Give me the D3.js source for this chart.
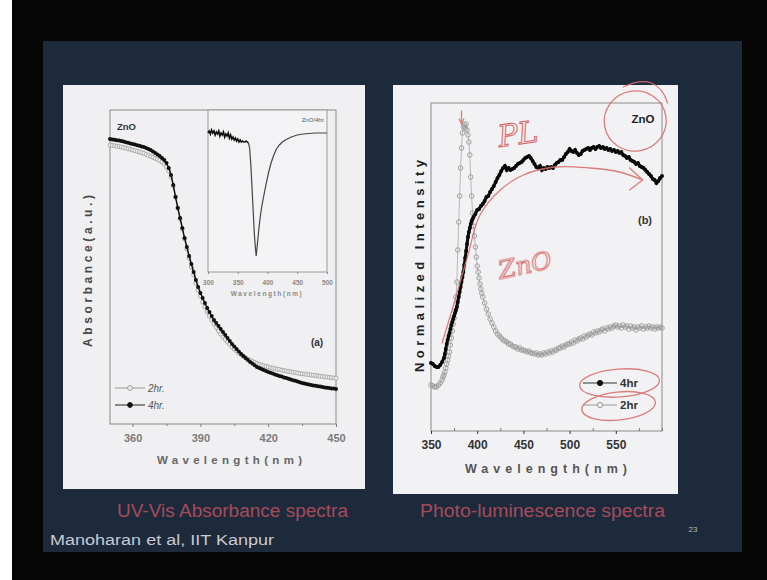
<!DOCTYPE html>
<html><head><meta charset="utf-8">
<script src="https://cdn.jsdelivr.net/npm/d3@7"></script>
<style>body{margin:0;background:#050505}svg{display:block}</style>
</head><body>
<svg id="c" width="767" height="580"></svg>
<script>
// ---------- DATA ----------
const uvWavelength = [350,351,352,353,354,355,356,357,358,359,360,361,362,363,364,365,366,367,368,369,
370,371,372,373,374,375,376,377,378,379,380,381,382,383,384,385,386,387,388,389,
390,391,392,393,394,395,396,397,398,399,400,401,402,403,404,405,406,407,408,409,
410,411,412,413,414,415,416,417,418,419,420,421,422,423,424,425,426,427,428,429,
430,431,432,433,434,435,436,437,438,439,440,441,442,443,444,445,446,447,448,449,450];
const uv4hr = [1.425,1.423,1.421,1.419,1.417,1.415,1.412,1.409,1.406,1.403,
1.400,1.397,1.394,1.391,1.388,1.385,1.380,1.375,1.370,1.363,
1.355,1.348,1.340,1.330,1.320,1.305,1.280,1.245,1.195,1.135,
1.080,1.030,0.980,0.930,0.885,0.840,0.800,0.760,0.720,0.685,
0.655,0.630,0.605,0.580,0.560,0.540,0.520,0.505,0.490,0.475,
0.460,0.445,0.430,0.415,0.400,0.388,0.375,0.363,0.350,0.340,
0.330,0.320,0.310,0.302,0.294,0.285,0.280,0.275,0.270,0.265,
0.260,0.256,0.252,0.248,0.244,0.240,0.237,0.233,0.230,0.226,
0.223,0.219,0.216,0.212,0.209,0.205,0.203,0.200,0.198,0.195,
0.193,0.191,0.189,0.187,0.185,0.183,0.181,0.180,0.178,0.177,0.175];
const uv2hr = [1.395,1.393,1.391,1.389,1.387,1.385,1.382,1.379,1.376,1.373,
1.370,1.367,1.363,1.360,1.356,1.353,1.348,1.343,1.338,1.333,
1.328,1.323,1.318,1.310,1.300,1.285,1.265,1.235,1.190,1.135,
1.080,1.025,0.975,0.925,0.875,0.830,0.785,0.745,0.705,0.670,
0.640,0.610,0.585,0.560,0.540,0.520,0.500,0.483,0.465,0.450,
0.435,0.423,0.410,0.398,0.385,0.375,0.365,0.355,0.347,0.339,
0.330,0.324,0.318,0.313,0.308,0.303,0.299,0.295,0.291,0.288,
0.285,0.282,0.279,0.277,0.274,0.272,0.269,0.267,0.265,0.263,
0.261,0.259,0.257,0.255,0.253,0.251,0.250,0.248,0.247,0.245,
0.244,0.242,0.241,0.239,0.238,0.236,0.235,0.233,0.232,0.230,0.229];
const uvTicks = [360,390,420,450];
const uvMinorTicks = [375,405,435];

const insetDeriv = [[300,1.40],[302,1.42],[304,1.39],[306,1.43],[308,1.40],[310,1.42],[312,1.38],[314,1.41],
[316,1.39],[318,1.42],[320,1.37],[322,1.40],[324,1.38],[326,1.41],[328,1.36],[330,1.39],[332,1.37],[334,1.40],
[336,1.35],[338,1.38],[340,1.34],[342,1.36],[344,1.33],[346,1.35],[348,1.32],[350,1.34],[352,1.31],[354,1.33],
[356,1.31],[358,1.32],[360,1.31],[362,1.31],[364,1.32],[366,1.31],[368,1.30],[370,1.25],[372,1.08],[374,0.85],
[376,0.61],[378,0.38],[380,0.23],[381,0.17],[382,0.23],[384,0.35],[386,0.47],[388,0.57],[390,0.65],[392,0.72],
[395,0.81],[398,0.90],[402,1.01],[406,1.10],[410,1.17],[415,1.24],[420,1.28],[425,1.31],[430,1.33],[440,1.36],
[450,1.38],[460,1.39],[470,1.395],[480,1.40],[490,1.40],[500,1.40]];
const insetTicks = [300,350,400,450,500];

const pl4hr = [[350,0.34],[352,0.335],[354,0.325],[356,0.32],[358,0.32],[360,0.33],[362,0.345],
[364,0.365],[365,0.385],[366,0.41],[367,0.435],[368,0.455],[369,0.475],[370,0.49],[371,0.51],[372,0.53],
[373,0.545],[374,0.56],[375,0.575],[376,0.59],[377,0.605],[378,0.62],[379,0.645],[380,0.67],[381,0.695],
[382,0.72],[383,0.745],[384,0.77],[385,0.795],[386,0.83],[387,0.865],[388,0.90],[389,0.935],[390,0.97],
[391,0.995],[392,1.015],[393,1.035],[394,1.05],[395,1.06],[396,1.07],[398,1.085],[400,1.105],[402,1.11],
[404,1.125],[406,1.135],[408,1.15],[410,1.17],[412,1.175],[414,1.195],[416,1.21],[418,1.225],[420,1.245],
[422,1.265],[424,1.28],[426,1.30],[428,1.315],[430,1.325],[432,1.305],[434,1.315],[436,1.305],[438,1.31],
[440,1.315],[442,1.325],[444,1.335],[446,1.34],[448,1.345],[450,1.355],[452,1.365],[454,1.37],[456,1.375],
[458,1.365],[460,1.35],[462,1.335],[464,1.32],[466,1.315],[468,1.325],[470,1.305],[472,1.315],[474,1.31],
[476,1.32],[478,1.315],[480,1.32],[482,1.315],[484,1.33],[486,1.34],[488,1.345],[490,1.355],[492,1.355],
[494,1.37],[496,1.385],[498,1.395],[500,1.41],[502,1.40],[504,1.395],[506,1.405],[508,1.39],[510,1.38],
[512,1.385],[514,1.40],[516,1.405],[518,1.41],[520,1.415],[522,1.405],[524,1.415],[526,1.42],[528,1.41],
[530,1.42],[532,1.425],[534,1.415],[536,1.42],[538,1.41],[540,1.415],[542,1.405],[544,1.41],[546,1.40],
[548,1.405],[550,1.395],[552,1.40],[554,1.39],[556,1.395],[558,1.38],[560,1.375],[562,1.365],[564,1.37],
[566,1.355],[568,1.35],[570,1.345],[572,1.335],[574,1.34],[576,1.325],[578,1.32],[580,1.315],[582,1.305],
[584,1.295],[586,1.285],[588,1.275],[590,1.26],[592,1.255],[594,1.24],[596,1.25],[598,1.265],[600,1.275]];
const pl2hr = [[350,0.23],[352,0.225],[354,0.22],[356,0.22],[358,0.23],[360,0.24],[362,0.255],[363,0.27],
[364,0.28],[365,0.295],[366,0.315],[367,0.335],[368,0.355],[369,0.375],[370,0.395],[371,0.43],[372,0.465],
[373,0.50],[374,0.535],[375,0.565],[376,0.60],[377,0.67],[378,0.745],[379,0.905],[380,1.045],[381,1.175],
[382,1.315],[383,1.415],[384,1.49],[385,1.52],[386,1.53],[387,1.515],[388,1.535],[389,1.505],[390,1.48],
[391,1.445],[392,1.38],[393,1.27],[394,1.175],[395,1.09],[396,1.025],[397,0.975],[398,0.92],[399,0.87],
[400,0.825],[401,0.795],[402,0.765],[403,0.735],[404,0.71],[405,0.69],[406,0.67],[408,0.64],[410,0.61],
[412,0.585],[414,0.56],[416,0.54],[418,0.52],[420,0.50],[422,0.485],[424,0.475],[426,0.465],[428,0.455],
[430,0.45],[432,0.445],[434,0.435],[436,0.435],[438,0.425],[440,0.42],[442,0.42],[444,0.41],[446,0.415],
[448,0.405],[450,0.405],[452,0.40],[454,0.395],[456,0.40],[458,0.39],[460,0.39],[462,0.385],[464,0.39],
[466,0.38],[468,0.385],[470,0.38],[472,0.39],[474,0.385],[476,0.395],[478,0.39],[480,0.40],[482,0.395],
[484,0.405],[486,0.405],[488,0.415],[490,0.415],[492,0.425],[494,0.42],[496,0.43],[498,0.435],[500,0.435],
[502,0.445],[504,0.44],[506,0.455],[508,0.45],[510,0.46],[512,0.465],[514,0.46],[516,0.475],[518,0.47],
[520,0.48],[522,0.485],[524,0.48],[526,0.495],[528,0.49],[530,0.50],[532,0.495],[534,0.505],[536,0.51],
[538,0.50],[540,0.515],[542,0.51],[544,0.52],[546,0.515],[548,0.525],[550,0.53],[552,0.52],[554,0.525],
[556,0.515],[558,0.53],[560,0.52],[562,0.525],[564,0.51],[566,0.525],[568,0.515],[570,0.52],[572,0.505],
[574,0.52],[576,0.515],[578,0.525],[580,0.51],[582,0.52],[584,0.515],[586,0.525],[588,0.515],[590,0.52],
[592,0.51],[594,0.52],[596,0.515],[598,0.52],[600,0.515]];
const plTicks = [350,400,450,500,550];
const plMinorTicks = [375,425,475,525,575,600];

// annotation strokes (in PL data coordinates)
const plArrowPath = [[362,0.44],[376,0.655],[390,0.88],[403,1.08],[425,1.205],[450,1.28],[484,1.32],[522,1.315],[554,1.295],[579,1.255]];

// ---------- DRAW ----------
const svg = d3.select('#c');
const FONT = 'Liberation Sans, Arial, sans-serif';
const RED = '#d8706e';

svg.append('rect').attr('width',767).attr('height',580).attr('fill','#050505');
svg.append('rect').attr('x',0).attr('y',0).attr('width',12).attr('height',580).attr('fill','#ffffff');
svg.append('rect').attr('x',43).attr('y',41).attr('width',699).attr('height',511).attr('fill','#1c2a3b');
svg.append('rect').attr('x',63).attr('y',85).attr('width',302).attr('height',404).attr('fill','#f0f0f2');
svg.append('rect').attr('x',393).attr('y',85).attr('width',285).attr('height',409).attr('fill','#f2f2f4');

function styleAxis(s, fs, color){
  s.select('.domain').remove();
  s.selectAll('line').attr('stroke',color);
  s.selectAll('text').attr('font-size',fs).attr('font-weight','bold').attr('fill',color).attr('font-family',FONT);
}

// ===== LEFT: UV-Vis =====
const xL = d3.scaleLinear([350,450],[110,336]);
const yL = d3.scaleLinear([0,1.57],[424,110]);
const gL = svg.append('g');
gL.append('rect').attr('x',110).attr('y',110).attr('width',226).attr('height',314).attr('fill','none').attr('stroke','#8a8a8a');
gL.append('g').attr('transform','translate(0,424)')
  .call(d3.axisBottom(xL).tickValues(uvTicks).tickSize(3).tickPadding(7))
  .call(s=>styleAxis(s,11,'#7a7a7a'));
gL.append('g').attr('transform','translate(0,424)')
  .call(d3.axisBottom(xL).tickValues(uvMinorTicks).tickSize(2).tickFormat(''))
  .call(s=>styleAxis(s,11,'#7a7a7a'));
gL.append('text').attr('x',157).attr('y',464).attr('font-family',FONT)
  .attr('font-weight','bold').attr('font-size',11.5).attr('textLength',145).attr('lengthAdjust','spacing').attr('fill','#666').text('Wavelength(nm)');
gL.append('text').attr('transform','translate(92,347) rotate(-90)').attr('font-family',FONT)
  .attr('font-weight','bold').attr('font-size',12).attr('textLength',152).attr('lengthAdjust','spacing').attr('fill','#4a4a4a').text('Absorbance(a.u.)');
gL.append('text').attr('x',117).attr('y',130).attr('font-family',FONT).attr('font-weight','bold').attr('font-size',9.5).attr('fill','#333').text('ZnO');
gL.append('text').attr('x',317).attr('y',346).attr('text-anchor','middle').attr('font-family',FONT).attr('font-weight','bold').attr('font-size',10).attr('fill','#333').text('(a)');

const uvLine = d3.line().x(d=>xL(d[0])).y(d=>yL(d[1]));
const uvData2 = uvWavelength.map((w,i)=>[w,uv2hr[i]]);
const uvData4 = uvWavelength.map((w,i)=>[w,uv4hr[i]]);
gL.append('path').datum(uvData2).attr('d',uvLine).attr('fill','none').attr('stroke','#9a9a9a').attr('stroke-width',1);
gL.selectAll('.c2').data(uvData2).join('circle').attr('cx',d=>xL(d[0])).attr('cy',d=>yL(d[1])).attr('r',2)
  .attr('fill','#f2f2f2').attr('stroke','#9a9a9a').attr('stroke-width',0.8);
gL.append('path').datum(uvData4).attr('d',uvLine).attr('fill','none').attr('stroke','#111').attr('stroke-width',1.4);
gL.selectAll('.c4').data(uvData4).join('circle').attr('cx',d=>xL(d[0])).attr('cy',d=>yL(d[1])).attr('r',2).attr('fill','#111');

// legend left
[[388,'2hr.',false],[405,'4hr.',true]].forEach(([yy,lab,filled])=>{
  gL.append('line').attr('x1',115).attr('x2',145).attr('y1',yy).attr('y2',yy).attr('stroke',filled?'#222':'#999');
  gL.append('circle').attr('cx',130).attr('cy',yy).attr('r',2.4).attr('fill',filled?'#111':'#f2f2f2').attr('stroke',filled?'#111':'#999');
  gL.append('text').attr('x',148).attr('y',yy+3.5).attr('font-family',FONT).attr('font-size',10).attr('font-style','italic').attr('fill','#555').text(lab);
});

// inset
const xI = d3.scaleLinear([300,500],[208,327]);
const yI = d3.scaleLinear([0,1.63],[273,110]);
const gI = svg.append('g');
gI.append('rect').attr('x',208).attr('y',110).attr('width',119).attr('height',162).attr('fill','#f3f3f5').attr('stroke','#999');
gI.append('g').attr('transform','translate(0,272)')
  .call(d3.axisBottom(xI).tickValues(insetTicks).tickSize(2).tickPadding(6))
  .call(s=>styleAxis(s,6.5,'#8a8a8a'));
gI.append('text').attr('x',267).attr('y',296).attr('text-anchor','middle').attr('font-family',FONT).attr('font-weight','bold')
  .attr('font-size',6.5).attr('letter-spacing',1.6).attr('fill','#8a8a8a').text('Wavelength(nm)');
gI.append('text').attr('x',325).attr('y',122).attr('text-anchor','end').attr('font-family',FONT).attr('font-size',6).attr('fill','#555').text('ZnO/4hr.');
const inLine = d3.line().x(d=>xI(d[0])).y(d=>yI(d[1]));
gI.append('path').datum(insetDeriv.filter(d=>d[0]<=368)).attr('d',inLine).attr('fill','none').attr('stroke','#111').attr('stroke-width',1.6);
gI.append('path').datum(insetDeriv.filter(d=>d[0]>=368)).attr('d',inLine).attr('fill','none').attr('stroke','#444').attr('stroke-width',1.2);

// ===== RIGHT: PL =====
const xR = d3.scaleLinear([350,600],[431,662]);
const yR = d3.scaleLinear([0,1.64],[431,103]);
const gR = svg.append('g');
gR.append('rect').attr('x',431).attr('y',103).attr('width',231).attr('height',328).attr('fill','none').attr('stroke','#8a8a8a');
gR.append('g').attr('transform','translate(0,431)')
  .call(d3.axisBottom(xR).tickValues(plTicks).tickSize(3).tickPadding(6))
  .call(s=>styleAxis(s,12,'#333'));
gR.append('g').attr('transform','translate(0,431)')
  .call(d3.axisBottom(xR).tickValues(plMinorTicks).tickSize(-3).tickFormat(''))
  .call(s=>styleAxis(s,12,'#777'));
gR.append('text').attr('x',465).attr('y',473).attr('font-family',FONT)
  .attr('font-weight','bold').attr('font-size',12.5).attr('textLength',162).attr('lengthAdjust','spacing').attr('fill','#555').text('Wavelength(nm)');
gR.append('text').attr('transform','translate(424,372) rotate(-90)').attr('font-family',FONT)
  .attr('font-weight','bold').attr('font-size',13).attr('textLength',212).attr('lengthAdjust','spacing').attr('fill','#222').text('Normalized Intensity');
gR.append('text').attr('x',643).attr('y',123).attr('text-anchor','middle').attr('font-family',FONT).attr('font-weight','bold').attr('font-size',11.5).attr('fill','#222').text('ZnO');
gR.append('text').attr('x',645).attr('y',224).attr('text-anchor','middle').attr('font-family',FONT).attr('font-weight','bold').attr('font-size',11).attr('fill','#333').text('(b)');

const plLine = d3.line().x(d=>xR(d[0])).y(d=>yR(d[1]));
gR.append('path').datum(pl2hr).attr('d',plLine).attr('fill','none').attr('stroke','#aaa').attr('stroke-width',0.8);
gR.selectAll('.p2').data(pl2hr).join('circle').attr('cx',d=>xR(d[0])).attr('cy',d=>yR(d[1])).attr('r',2.3)
  .attr('fill','none').attr('stroke','#999').attr('stroke-width',0.9);
gR.append('path').datum(pl4hr).attr('d',plLine).attr('fill','none').attr('stroke','#0a0a0a').attr('stroke-width',3);
gR.selectAll('.p4').data(pl4hr).join('circle').attr('cx',d=>xR(d[0])).attr('cy',d=>yR(d[1])).attr('r',2).attr('fill','#0a0a0a');

// legend right
[[383,'4hr',true],[405,'2hr',false]].forEach(([yy,lab,filled])=>{
  gR.append('line').attr('x1',583).attr('x2',617).attr('y1',yy).attr('y2',yy).attr('stroke',filled?'#333':'#999');
  gR.append('circle').attr('cx',600).attr('cy',yy).attr('r',2.6).attr('fill',filled?'#111':'#f2f2f2').attr('stroke',filled?'#111':'#999');
  gR.append('text').attr('x',620).attr('y',yy+4).attr('font-family',FONT).attr('font-weight','bold').attr('font-size',11.5).attr('fill','#333').text(lab);
});

// red hand annotations
const gA = svg.append('g').attr('fill','none').attr('stroke',RED).attr('stroke-width',1.3).attr('stroke-linecap','round').attr('opacity',0.9);
gA.append('path').datum(plArrowPath).attr('d',d3.line().curve(d3.curveCatmullRom).x(d=>xR(d[0])).y(d=>yR(d[1])));
const tip = plArrowPath[plArrowPath.length-1];
gA.append('path').attr('d',`M${xR(565)},${yR(1.315)} L${xR(tip[0])},${yR(tip[1])} L${xR(565)},${yR(1.205)}`);
gA.append('ellipse').attr('cx',xR(571)).attr('cy',yR(1.55)).attr('rx',31).attr('ry',30).attr('transform',`rotate(-10 ${xR(571)} ${yR(1.55)})`);
gA.append('path').attr('d',`M${xR(558)},${yR(1.72)} Q${xR(595)},${yR(1.80)} ${xR(606)},${yR(1.64)}`);
gA.append('ellipse').attr('cx',xR(554)).attr('cy',yR(0.24)).attr('rx',40).attr('ry',14).attr('transform',`rotate(-4 ${xR(554)} ${yR(0.24)})`);
gA.append('ellipse').attr('cx',xR(553)).attr('cy',yR(0.125)).attr('rx',37).attr('ry',14).attr('transform',`rotate(-6 ${xR(553)} ${yR(0.125)})`);
gA.append('path').attr('d',`M${xR(383)},${yR(1.6)} L${xR(383)},${yR(1.535)} M${xR(380.5)},${yR(1.56)} L${xR(383)},${yR(1.535)} L${xR(385.5)},${yR(1.56)}`);
svg.append('text').attr('x',xR(424)).attr('y',yR(1.42)).attr('font-family','DejaVu Serif').attr('font-style','italic')
  .attr('font-size',30).attr('fill','none').attr('stroke',RED).attr('stroke-width',1.1).attr('transform',`rotate(-8 ${xR(424)} ${yR(1.42)})`).text('PL');
svg.append('text').attr('x',xR(425)).attr('y',yR(0.76)).attr('font-family','DejaVu Serif').attr('font-style','italic')
  .attr('font-size',25).attr('fill','none').attr('stroke',RED).attr('stroke-width',1.1).attr('transform',`rotate(-12 ${xR(425)} ${yR(0.76)})`).text('ZnO');

// slide captions
svg.append('text').attr('x',117).attr('y',517).attr('font-family',FONT).attr('font-size',18).attr('fill','#a64a5a')
  .attr('textLength',231).attr('lengthAdjust','spacingAndGlyphs').text('UV-Vis Absorbance spectra');
svg.append('text').attr('x',420).attr('y',517).attr('font-family',FONT).attr('font-size',18).attr('fill','#a64a5a')
  .attr('textLength',245).attr('lengthAdjust','spacingAndGlyphs').text('Photo-luminescence spectra');
svg.append('text').attr('x',50).attr('y',545).attr('font-family',FONT).attr('font-size',15.5).attr('fill','#c9c9d2')
  .attr('textLength',224).attr('lengthAdjust','spacingAndGlyphs').text('Manoharan et al, IIT Kanpur');
svg.append('text').attr('x',693).attr('y',532).attr('text-anchor','middle').attr('font-family',FONT).attr('font-size',8).attr('fill','#b8b8c0').text('23');
</script>
</body></html>
